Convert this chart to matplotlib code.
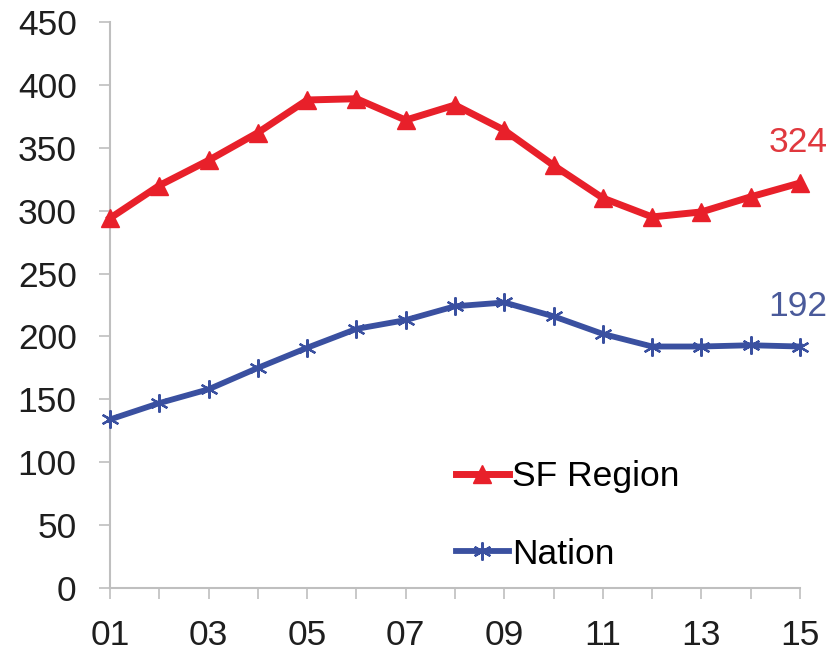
import matplotlib
matplotlib.use("Agg")
import matplotlib.pyplot as plt

plt.rcParams['font.family'] = ['Liberation Sans', 'DejaVu Sans']

years = list(range(1, 16))
xtick_labels = ["01", "03", "05", "07", "09", "11", "13", "15"]
sf_region = [294, 320, 340, 362, 388, 389, 372, 384, 364, 336, 310, 295, 299, 311, 322]
nation = [134, 147, 158, 175, 191, 206, 213, 224, 227, 216, 202, 192, 192, 193, 192]
sf_label = "324"
nation_label = "192"

red = "#E8202A"
blue = "#3A50A0"
gray = "#BFBFBF"
FS = 25.5

fig = plt.figure(figsize=(8.32, 6.51), dpi=100)
ax = fig.add_axes([110/832, 1-588/651, (800-110)/832, (588-22)/651])

ax.plot(years, sf_region, color=red, lw=5, marker='^', ms=13, mec=red, mfc=red,
        label="SF Region", clip_on=False, zorder=3)
ax.plot(years, nation, color=blue, lw=4.2, marker=(6, 2, 0), ms=13, mec=blue, mew=1.6,
        label="Nation", clip_on=False, zorder=3)

ax.set_xlim(1, 15)
ax.set_ylim(0, 450)
ax.set_yticks(range(0, 451, 50))
ax.set_xticks(years)
ax.set_xticklabels([xtick_labels[i // 2] if i % 2 == 0 else "" for i in range(15)])

for s in ["top", "right"]:
    ax.spines[s].set_visible(False)
for s in ["left", "bottom"]:
    ax.spines[s].set_color(gray)
    ax.spines[s].set_linewidth(1.5)
ax.tick_params(axis='both', colors=gray, width=1.2, length=8, labelsize=FS,
               labelcolor="#1E1E1E")
ax.tick_params(axis='y', pad=16)
ax.tick_params(axis='x', pad=14)

ax.text(14.96, 354, sf_label, color="#E0383E", fontsize=FS, ha='center', va='center')
ax.text(14.96, 224, nation_label, color="#4A5A9A", fontsize=FS, ha='center', va='center')

leg = ax.legend(loc='center left', bbox_to_anchor=(0.455, 0.128), frameon=False,
                fontsize=FS, handlelength=1.5, handletextpad=0.1, labelspacing=1.25,
                borderpad=0.4)

fig.savefig("out.png", dpi=100)
